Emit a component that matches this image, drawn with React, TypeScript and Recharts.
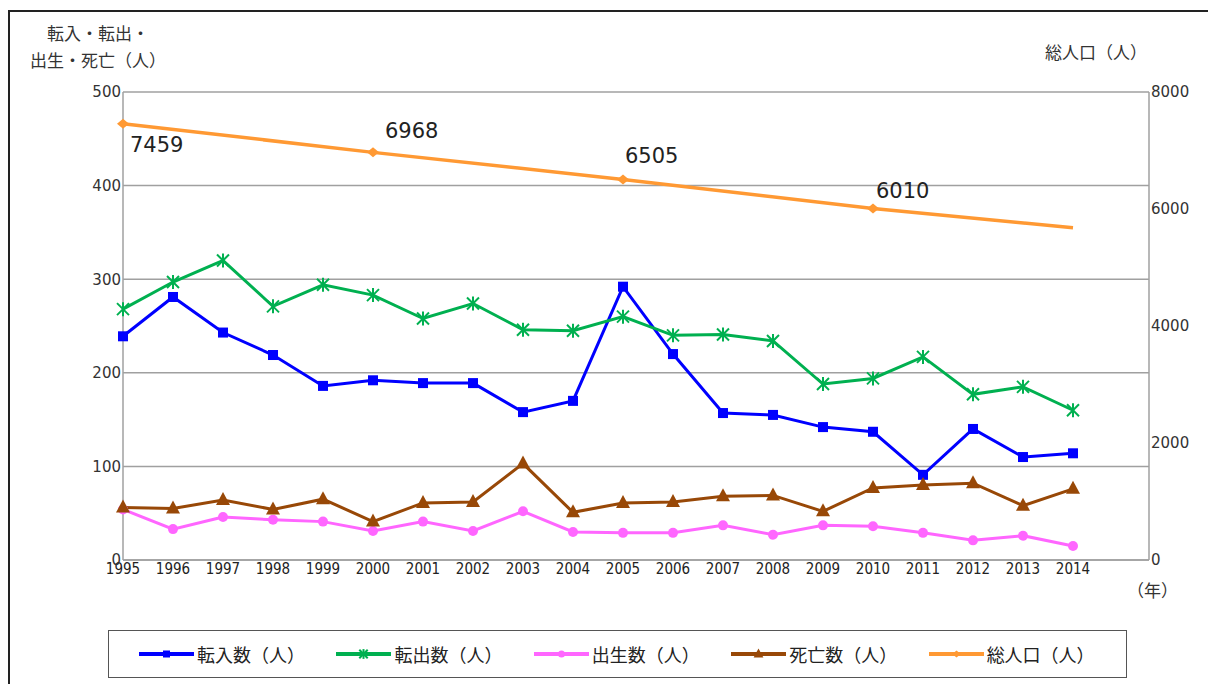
import { LineChart, Line, XAxis, YAxis, CartesianGrid, Legend, LabelList } from "recharts";

// years on the x axis
const years = [
  1995, 1996, 1997, 1998, 1999, 2000, 2001, 2002, 2003, 2004,
  2005, 2006, 2007, 2008, 2009, 2010, 2011, 2012, 2013, 2014
];

// 転入数
const moveIn = [239, 281, 243, 219, 186, 192, 189, 189, 158, 170, 292, 220, 157, 155, 142, 137, 91, 140, 110, 114];
// 転出数
const moveOut = [268, 297, 320, 271, 294, 283, 258, 274, 246, 245, 260, 240, 241, 234, 188, 194, 217, 177, 185, 160];
// 出生数
const births = [54, 33, 46, 43, 41, 31, 41, 31, 52, 30, 29, 29, 37, 27, 37, 36, 29, 21, 26, 15];
// 死亡数
const deaths = [56, 55, 64, 54, 65, 41, 61, 62, 103, 51, 61, 62, 68, 69, 52, 77, 80, 82, 58, 76];
// 総人口 (census years + 2014)
const population = [
  7459, null, null, null, null, 6968, null, null, null, null,
  6505, null, null, null, null, 6010, null, null, null, 5680
];
const censusYears = [1995, 2000, 2005, 2010];

const leftTicks = [0, 100, 200, 300, 400, 500];
const rightTicks = [0, 2000, 4000, 6000, 8000];

const legendOrder = ["moveIn", "moveOut", "births", "deaths", "pop"];

const rows = years.map((year, i) => ({
  year,
  moveIn: moveIn[i],
  moveOut: moveOut[i],
  births: births[i],
  deaths: deaths[i],
  pop: population[i]
}));

const BLUE = "#0000FF";
const GREEN = "#00B050";
const PINK = "#FF66FF";
const BROWN = "#984807";
const ORANGE = "#FF9933";

const JP = "'Noto Sans CJK JP', 'Noto Sans', sans-serif";
const NUM = "'DejaVu Sans', Verdana, sans-serif";

// marker shapes
function marker(kind: string, cx: number, cy: number, color: string, s = 1) {
  if (kind === "square") {
    return <rect x={cx - 5 * s} y={cy - 5 * s} width={10 * s} height={10 * s} fill={color} />;
  }
  if (kind === "star") {
    return (
      <g stroke={color} strokeWidth={2}>
        <line x1={cx} y1={cy - 7 * s} x2={cx} y2={cy + 7 * s} />
        <line x1={cx - 6 * s} y1={cy - 6 * s} x2={cx + 6 * s} y2={cy + 6 * s} />
        <line x1={cx - 6 * s} y1={cy + 6 * s} x2={cx + 6 * s} y2={cy - 6 * s} />
      </g>
    );
  }
  if (kind === "circle") {
    return <circle cx={cx} cy={cy} r={5 * s} fill={color} />;
  }
  if (kind === "triangle") {
    return (
      <polygon
        points={`${cx},${cy - 8 * s} ${cx - 7 * s},${cy + 5 * s} ${cx + 7 * s},${cy + 5 * s}`}
        fill={color}
      />
    );
  }
  return (
    <polygon
      points={`${cx},${cy - 5 * s} ${cx + 6 * s},${cy} ${cx},${cy + 5 * s} ${cx - 6 * s},${cy}`}
      fill={color}
    />
  );
}

const shapeOf: Record<string, string> = {
  moveIn: "square",
  moveOut: "star",
  births: "circle",
  deaths: "triangle",
  pop: "diamond"
};

const makeDot = (kind: string, color: string) => (p: any) => {
  if (p.cx == null || p.cy == null || p.value == null) return <g key={p.index} />;
  if (kind === "diamond" && !censusYears.includes(p.payload.year)) return <g key={p.index} />;
  return <g key={p.index}>{marker(kind, p.cx, p.cy, color)}</g>;
};

// label offsets for the population values
const popLabelPos: Record<number, [number, number]> = {
  1995: [7, 28],
  2000: [12, -14],
  2005: [2, -16],
  2010: [3, -10]
};

const renderPopLabel = (p: any) => {
  const { x, y, value, index } = p;
  if (value == null || x == null || y == null) return null;
  const year = rows[index]?.year;
  const pos = popLabelPos[year];
  if (!pos) return null;
  return (
    <text
      key={index}
      x={x + pos[0]}
      y={y + pos[1]}
      fontFamily={NUM}
      fontSize={21}
      fill="#222"
    >
      {value}
    </text>
  );
};

const renderLegend = (props: any) => {
  const items = [...(props.payload || [])].sort(
    (a: any, b: any) => legendOrder.indexOf(a.dataKey) - legendOrder.indexOf(b.dataKey)
  );
  return (
    <div
      style={{
        boxSizing: "border-box",
        width: 1019,
        height: 48,
        border: "1.5px solid #555",
        display: "flex",
        alignItems: "center",
        paddingLeft: 30
      }}
    >
      {items.map((entry: any) => (
        <div key={entry.dataKey} style={{ width: 200, display: "flex", alignItems: "center" }}>
          <svg width={55} height={20} style={{ marginRight: 3 }}>
            <line x1={0} y1={10} x2={55} y2={10} stroke={entry.color} strokeWidth={4} />
            {marker(shapeOf[entry.dataKey], 27.5, 10, entry.color, 0.7)}
          </svg>
          <span style={{ fontFamily: JP, fontSize: 18, color: "#222", whiteSpace: "nowrap" }}>
            {entry.value}
          </span>
        </div>
      ))}
    </div>
  );
};

export default function App() {
  return (
    <div
      style={{
        position: "fixed",
        left: 8,
        top: 8,
        width: 1200,
        height: 676,
        overflow: "hidden",
        background: "#fff"
      }}
    >
      {/* frame (only the top and left edges fall inside the picture) */}
      <div
        style={{
          position: "absolute",
          left: 0,
          top: 2,
          width: 1400,
          height: 900,
          borderTop: "2px solid #222",
          borderLeft: "2px solid #222",
          boxSizing: "border-box"
        }}
      />

      {/* axis titles */}
      <div
        style={{
          position: "absolute",
          left: 0,
          top: 11,
          width: 180,
          textAlign: "center",
          fontFamily: JP,
          fontSize: 17,
          lineHeight: "27px",
          color: "#333"
        }}
      >
        転入・転出・
        <br />
        出生・死亡（人）
      </div>
      <div
        style={{
          position: "absolute",
          left: 1037,
          top: 30,
          fontFamily: JP,
          fontSize: 17,
          lineHeight: "27px",
          color: "#333",
          whiteSpace: "nowrap"
        }}
      >
        総人口（人）
      </div>
      <div
        style={{
          position: "absolute",
          left: 1119,
          top: 568,
          fontFamily: JP,
          fontSize: 17,
          lineHeight: "27px",
          color: "#333",
          whiteSpace: "nowrap"
        }}
      >
        （年）
      </div>

      <div style={{ position: "absolute", left: 0, top: 0 }}>
        <LineChart
          width={1200}
          height={676}
          data={rows}
          margin={{ top: 84, right: 0, left: 0, bottom: 94 }}
        >
          <CartesianGrid
            yAxisId="left"
            horizontal={true}
            vertical={false}
            stroke="#A0A0A0"
            strokeWidth={1.5}
          />

          <XAxis
            dataKey="year"
            type="number"
            domain={[1995, 2015.52]}
            ticks={years}
            interval={0}
            height={30}
            tickSize={0}
            tickMargin={3}
            stroke="#A0A0A0"
            strokeWidth={1.5}
            tick={{ fontFamily: "'Liberation Sans Narrow', 'DejaVu Sans Condensed', sans-serif", fontSize: 15, fill: "#222" }}
          />

          <YAxis
            yAxisId="left"
            domain={[0, 500]}
            ticks={leftTicks}
            width={115}
            tickSize={0}
            tickMargin={2}
            stroke="#A0A0A0"
            strokeWidth={1.5}
            tick={{ fontFamily: NUM, fontSize: 15, fill: "#333" }}
          />

          <YAxis
            yAxisId="right"
            orientation="right"
            domain={[0, 8000]}
            ticks={rightTicks}
            width={59}
            tickSize={0}
            tickMargin={2}
            stroke="#A0A0A0"
            strokeWidth={1.5}
            tick={{ fontFamily: NUM, fontSize: 15, fill: "#333", textAnchor: "start" }}
          />

          <Legend
            verticalAlign="middle"
            layout="horizontal"
            content={renderLegend}
            wrapperStyle={{ position: "absolute", left: 100, top: 622, width: 1019, height: 48 }}
          />

          <Line
            yAxisId="left"
            type="linear"
            dataKey="moveIn"
            name="転入数（人）"
            stroke={BLUE}
            strokeWidth={3}
            dot={makeDot("square", BLUE)}
            activeDot={false}
            isAnimationActive={false}
          />
          <Line
            yAxisId="left"
            type="linear"
            dataKey="moveOut"
            name="転出数（人）"
            stroke={GREEN}
            strokeWidth={3}
            dot={makeDot("star", GREEN)}
            activeDot={false}
            isAnimationActive={false}
          />
          <Line
            yAxisId="left"
            type="linear"
            dataKey="births"
            name="出生数（人）"
            stroke={PINK}
            strokeWidth={3}
            dot={makeDot("circle", PINK)}
            activeDot={false}
            isAnimationActive={false}
          />
          <Line
            yAxisId="left"
            type="linear"
            dataKey="deaths"
            name="死亡数（人）"
            stroke={BROWN}
            strokeWidth={3}
            dot={makeDot("triangle", BROWN)}
            activeDot={false}
            isAnimationActive={false}
          />
          <Line
            yAxisId="right"
            type="linear"
            dataKey="pop"
            name="総人口（人）"
            stroke={ORANGE}
            strokeWidth={3.5}
            connectNulls
            dot={makeDot("diamond", ORANGE)}
            activeDot={false}
            isAnimationActive={false}
          >
            <LabelList dataKey="pop" content={renderPopLabel} />
          </Line>
        </LineChart>
      </div>
    </div>
  );
}
